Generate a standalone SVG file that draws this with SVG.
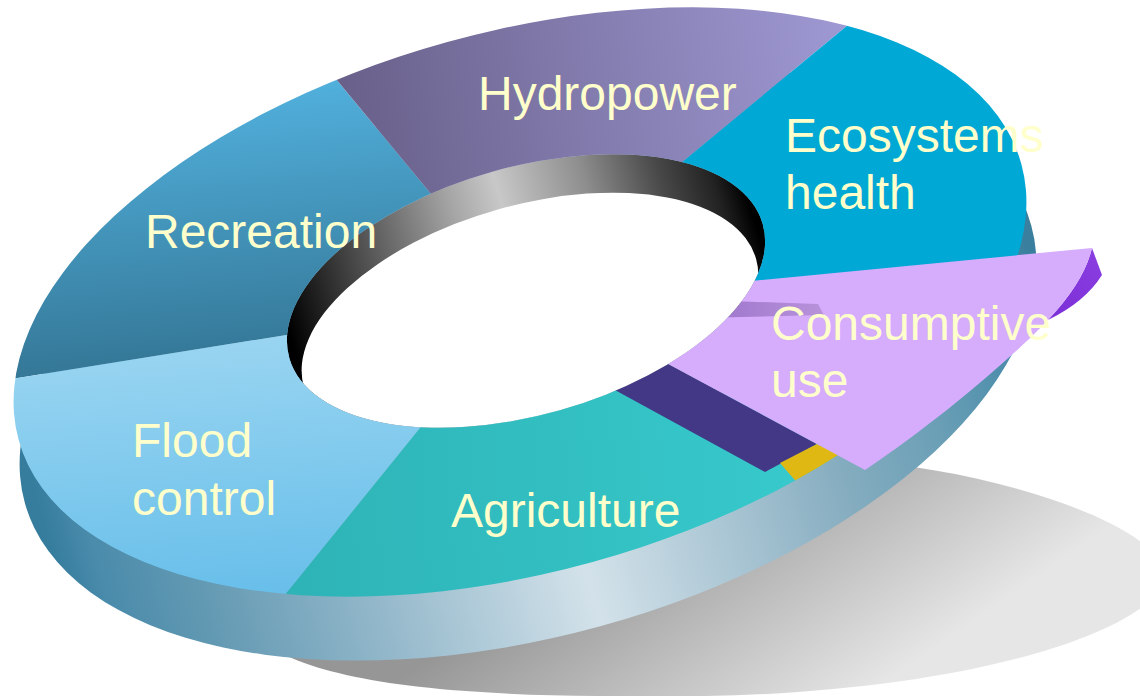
<svg xmlns="http://www.w3.org/2000/svg" width="1140" height="696" viewBox="0 0 1140 696">
<style>
.lbl{font-family:"Liberation Sans",Arial,sans-serif;font-size:48px;fill:#ffffcc}
</style>
<defs>
<linearGradient id="gShadow" gradientUnits="userSpaceOnUse" x1="700" y1="470" x2="860" y2="700">
<stop offset="0" stop-color="#969696"/><stop offset="1" stop-color="#e6e6e6"/>
</linearGradient>
<linearGradient id="gWall" gradientUnits="userSpaceOnUse" x1="18" y1="0" x2="1040" y2="0">
<stop offset="0" stop-color="#357c9d"/><stop offset="0.04" stop-color="#4a8bab"/><stop offset="0.13" stop-color="#6299b2"/><stop offset="0.28" stop-color="#8fb5c8"/><stop offset="0.5" stop-color="#d3e2ea"/><stop offset="0.67" stop-color="#a2c0cf"/><stop offset="0.77" stop-color="#84acbf"/><stop offset="0.87" stop-color="#6a9fb6"/><stop offset="0.94" stop-color="#5190ac"/><stop offset="1" stop-color="#3b7f9f"/>
</linearGradient>
<linearGradient id="gHole" gradientUnits="userSpaceOnUse" x1="287" y1="0" x2="765" y2="0">
<stop offset="0" stop-color="#000"/><stop offset="0.12" stop-color="#333"/><stop offset="0.4" stop-color="#a6a6a6"/><stop offset="0.5" stop-color="#c8c8c8"/><stop offset="0.68" stop-color="#8e8e8e"/><stop offset="0.83" stop-color="#4a4a4a"/><stop offset="0.94" stop-color="#222"/><stop offset="1" stop-color="#000"/>
</linearGradient>
<linearGradient id="gRec" gradientUnits="userSpaceOnUse" x1="220" y1="80" x2="250" y2="390">
<stop offset="0" stop-color="#52b2df"/><stop offset="1" stop-color="#31708e"/>
</linearGradient>
<linearGradient id="gHydro" gradientUnits="userSpaceOnUse" x1="340" y1="120" x2="850" y2="30">
<stop offset="0" stop-color="#686089"/><stop offset="1" stop-color="#9f99d4"/>
</linearGradient>
<linearGradient id="gFlood" gradientUnits="userSpaceOnUse" x1="200" y1="335" x2="220" y2="595">
<stop offset="0" stop-color="#9ad5f1"/><stop offset="1" stop-color="#68bfea"/>
</linearGradient>
<linearGradient id="gAgri" gradientUnits="userSpaceOnUse" x1="300" y1="500" x2="800" y2="470">
<stop offset="0" stop-color="#2eb4b7"/><stop offset="1" stop-color="#37c9cc"/>
</linearGradient>
<linearGradient id="gDark" gradientUnits="userSpaceOnUse" x1="1048" y1="320" x2="1102" y2="260">
<stop offset="0" stop-color="#7a2ed6"/><stop offset="1" stop-color="#8a3de0"/>
</linearGradient>
<linearGradient id="gBand" gradientUnits="userSpaceOnUse" x1="730" y1="0" x2="824" y2="0">
<stop offset="0" stop-color="#a27acf"/><stop offset="1" stop-color="#b893da"/>
</linearGradient>
<clipPath id="topClip">
<ellipse cx="520" cy="302" rx="520" ry="270" transform="rotate(-15.4 520 302)"/>
</clipPath>
<clipPath id="holeClip">
<ellipse cx="526" cy="291" rx="246" ry="124" transform="rotate(-15.8 526 291)"/>
</clipPath>
<mask id="holeMask" maskUnits="userSpaceOnUse" x="0" y="0" width="1140" height="696">
<rect x="0" y="0" width="1140" height="696" fill="#fff"/>
<ellipse cx="526" cy="291" rx="246" ry="124" transform="rotate(-15.8 526 291)" fill="#000"/>
</mask>
</defs>

<g id="shadow">
<path d="M230,600 C250,670 380,698 650,696 C900,700 1120,650 1165,585 C1180,530 1000,470 850,460 C600,440 250,520 230,600 Z" fill="url(#gShadow)"/>
</g>

<g id="side-wall">
<ellipse cx="528" cy="364" rx="522" ry="272" transform="rotate(-15.4 528 364)" fill="url(#gWall)"/>
</g>

<g id="hole">
<ellipse cx="526" cy="291" rx="246" ry="124" transform="rotate(-15.8 526 291)" fill="url(#gHole)"/>
<g clip-path="url(#holeClip)">
<ellipse cx="530" cy="323" rx="235" ry="118" transform="rotate(-15.8 530 323)" fill="#fff"/>
</g>
</g>

<g id="ring-top" mask="url(#holeMask)">
<g clip-path="url(#topClip)">
<g id="slice-recreation">
<polygon points="-100,397 330,328 460,229 250,-25 -100,-25" fill="url(#gRec)"/>
</g>
<g id="slice-hydropower">
<polygon points="250,-25 460,229 640,197 900,-18" fill="url(#gHydro)"/>
</g>
<g id="slice-ecosystems">
<polygon points="900,-18 640,197 700,288 1200,240 1200,-18" fill="#00a8d5"/>
</g>
<g id="slice-flood">
<polygon points="-100,397 330,328 445,397 200,700 -100,700" fill="url(#gFlood)"/>
</g>
<g id="slice-agriculture">
<polygon points="445,397 200,700 1100,700 1100,470 560,360" fill="url(#gAgri)"/>
</g>
<polygon points="560,360 620,338 817,444 765,472" fill="#433885"/>
<polygon points="780,463 817,444 846,458 800,486" fill="#e0b813"/>
</g>
<g id="slice-consumptive">
<path d="M1092,248 L1102,275 Q1085,302 1048,320 Q1084,282 1092,248 Z" fill="url(#gDark)"/>
<path d="M700,286 L1092,248 Q1084,282 1048,320 C1015,355 940,420 865,470 L620,338 Z" fill="#d6acfd"/>
<polygon points="700,300 818,304 824,315 700,318" fill="url(#gBand)"/>
</g>
</g>

<g id="labels">
<text class="lbl" x="145" y="248">Recreation</text>
<text class="lbl" x="478" y="110">Hydropower</text>
<text class="lbl" x="785" y="152">Ecosystems</text>
<text class="lbl" x="785" y="209">health</text>
<text class="lbl" x="771" y="340">Consumptive</text>
<text class="lbl" x="771" y="397">use</text>
<text class="lbl" x="132" y="457">Flood</text>
<text class="lbl" x="132" y="515">control</text>
<text class="lbl" x="451" y="527">Agriculture</text>
</g>
</svg>
